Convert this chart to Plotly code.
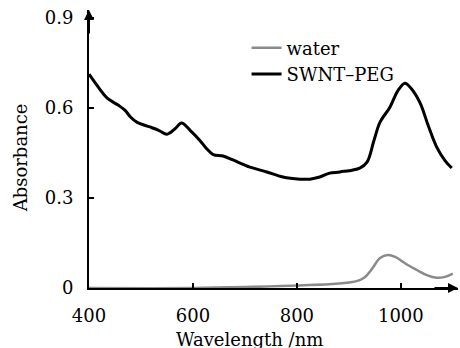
import plotly.graph_objects as go

# Data
wl_swnt = [400, 420, 435, 456, 469, 480, 492, 517, 535, 550, 565, 578, 595, 613, 626, 639,
           658, 677, 710, 742, 773, 806, 825, 844, 863, 883, 921, 935, 948, 960, 979, 995,
           1008, 1020, 1037, 1053, 1069, 1085, 1098]
abs_swnt = [0.713, 0.665, 0.633, 0.610, 0.593, 0.570, 0.553, 0.537, 0.525, 0.513, 0.530, 0.550,
            0.525, 0.493, 0.465, 0.445, 0.440, 0.427, 0.403, 0.387, 0.370, 0.363, 0.363, 0.370,
            0.383, 0.387, 0.400, 0.420, 0.490, 0.553, 0.603, 0.660, 0.683, 0.665, 0.617, 0.540,
            0.470, 0.425, 0.400]
wl_water = [400, 600, 700, 800, 880, 915, 930, 945, 960, 975, 990, 1010, 1031, 1050, 1069, 1085, 1100]
abs_water = [0.0, 0.0, 0.003, 0.008, 0.015, 0.023, 0.035, 0.065, 0.100, 0.110, 0.103, 0.080,
             0.060, 0.043, 0.034, 0.037, 0.048]

x_ticks = [400, 600, 800, 1000]
y_ticks = [0, 0.3, 0.6, 0.9]
y_tick_labels = ["0", "0.3", "0.6", "0.9"]

FONT = "DejaVu Serif"
FS = 18

fig = go.Figure()
fig.add_trace(go.Scatter(x=wl_water, y=abs_water, mode="lines", name="water",
                         line=dict(color="#8a8a8a", width=2.5, shape="spline")))
fig.add_trace(go.Scatter(x=wl_swnt, y=abs_swnt, mode="lines", name="SWNT\u2013PEG",
                         line=dict(color="black", width=3, shape="spline")))

fig.update_layout(
    width=460, height=348,
    margin=dict(l=89, r=2, t=10, b=60, autoexpand=False),
    paper_bgcolor="white", plot_bgcolor="white",
    font=dict(family=FONT, size=FS, color="black"),
    showlegend=True,
    legend=dict(x=0.427, y=0.93, xanchor="left", yanchor="top", bgcolor="rgba(0,0,0,0)",
                font=dict(size=FS), tracegroupgap=0, itemwidth=30),
)
fig.update_xaxes(range=[400, 1110], tickvals=x_ticks, ticks="inside", ticklen=5,
                 tickwidth=1.5, tickcolor="black", showline=True, linecolor="black",
                 linewidth=2, showgrid=False, zeroline=False, ticklabelstandoff=10,
                 tickfont=dict(size=FS, family=FONT))
fig.update_yaxes(range=[0, 0.927], tickvals=y_ticks, ticktext=y_tick_labels, ticks="inside",
                 ticklen=5, tickwidth=1.5, tickcolor="black", showline=True, linecolor="black",
                 linewidth=2, showgrid=False, zeroline=False, ticklabelstandoff=10,
                 tickfont=dict(size=FS, family=FONT))

# Axis arrows
fig.add_annotation(x=1, y=0, xref="paper", yref="paper", ax=-25, ay=0, text="",
                   showarrow=True, arrowhead=2, arrowsize=1, arrowwidth=2, arrowcolor="black")
fig.add_annotation(x=0, y=1, xref="paper", yref="paper", ax=0, ay=25, text="",
                   showarrow=True, arrowhead=2, arrowsize=1, arrowwidth=2, arrowcolor="black")

# Axis titles
fig.add_annotation(x=0.436, y=-0.14, xref="paper", yref="paper", text="Wavelength /nm",
                   showarrow=False, xanchor="center", yanchor="top", font=dict(size=FS))
fig.add_annotation(x=-0.187, y=0.47, xref="paper", yref="paper", text="Absorbance",
                   showarrow=False, textangle=-90, xanchor="center", yanchor="middle",
                   font=dict(size=FS))

fig.write_html("out.html", config={"displayModeBar": False},
               post_script="document.body.style.margin='0';")
